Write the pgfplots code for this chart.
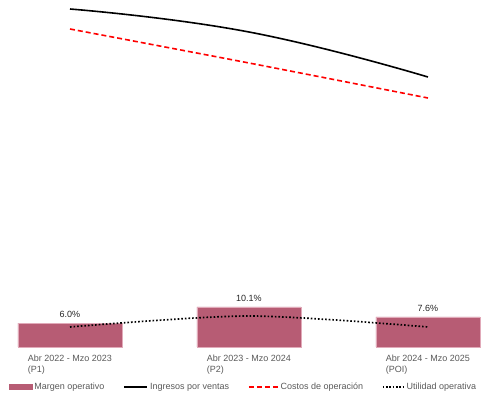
\documentclass[border=0pt]{standalone}
\usepackage{pgfplots}
\pgfplotsset{compat=1.18}
\usepackage{fontspec}
\setmainfont{Liberation Sans}
\definecolor{barc}{RGB}{183,92,116}
\definecolor{baredge}{RGB}{225,170,185}
\definecolor{txt}{RGB}{89,89,89}
\begin{document}
\begin{tikzpicture}
\pgfplotsset{
  common/.style={
    scale only axis, width=487pt, height=347pt,
    xmin=-0.391, xmax=2.330, ymin=0,
    axis line style={draw=none},
    ytick=\empty, major tick length=0pt,
    clip=false,
  }
}
\begin{axis}[common, ymax=87.6,
  /pgf/number format/assume math mode=true,
  xtick={0,1,2},
  xticklabels={{Abr 2022 - Mzo 2023\\(P1)},{Abr 2023 - Mzo 2024\\(P2)},{Abr 2024 - Mzo 2025\\(POI)}},
  xticklabel style={align=left, font=\fontsize{9}{11}\selectfont, text=txt, inner sep=1pt, yshift=-7pt},
  legend columns=4,
  legend style={at={(axis description cs:0.5,0)}, anchor=center, yshift=-40pt, draw=none, fill=none,
    font=\fontsize{9}{10}\selectfont, text=txt,
    /tikz/every even column/.append style={column sep=17pt}},
  legend cell align=left,
]
\addplot[ybar, bar width=104pt, fill=barc, draw=baredge, line width=0.6pt,
  legend image code/.code={\fill[barc] (0pt,-2.5pt) rectangle (23pt,2.5pt);},
  nodes near coords={\pgfmathprintnumber[fixed,fixed zerofill,precision=1,assume math mode=true]{\pgfplotspointmeta}\%},
  nodes near coords style={font=\fontsize{9}{10}\selectfont, text=black!85, yshift=2pt}]
  coordinates {(0,6.0) (1,10.1) (2,7.6)};
\addlegendentry{Margen operativo}
\addlegendimage{legend image code/.code={\draw[black, line width=1.5pt] (0pt,0pt) -- (23pt,0pt);}}
\addlegendentry{Ingresos por ventas}
\addlegendimage{legend image code/.code={\draw[red, line width=1.5pt, dash pattern=on 5pt off 3pt] (0pt,0pt) -- (29pt,0pt);}}
\addlegendentry{Costos de operación}
\addlegendimage{legend image code/.code={\draw[black, line width=1.5pt, dash pattern=on 1.5pt off 1.8pt] (0pt,0pt) -- (21pt,0pt);}}
\addlegendentry{Utilidad operativa}
\end{axis}
\begin{axis}[common, ymax=347, xtick=\empty]
\addplot[black, line width=1.6pt, smooth, tension=0.8] coordinates {(0,338) (1,315) (2,270)};
\addplot[red, line width=1.6pt, dash pattern=on 5pt off 3pt, smooth] coordinates {(0,318) (1,284) (2,249)};
\addplot[black, line width=1.7pt, dash pattern=on 1.6pt off 2pt, smooth] coordinates {(0,20) (1,31) (2,20)};
\end{axis}
\pgfresetboundingbox
\useasboundingbox (0,-51pt) rectangle (487pt,347pt);
\end{tikzpicture}
\end{document}
